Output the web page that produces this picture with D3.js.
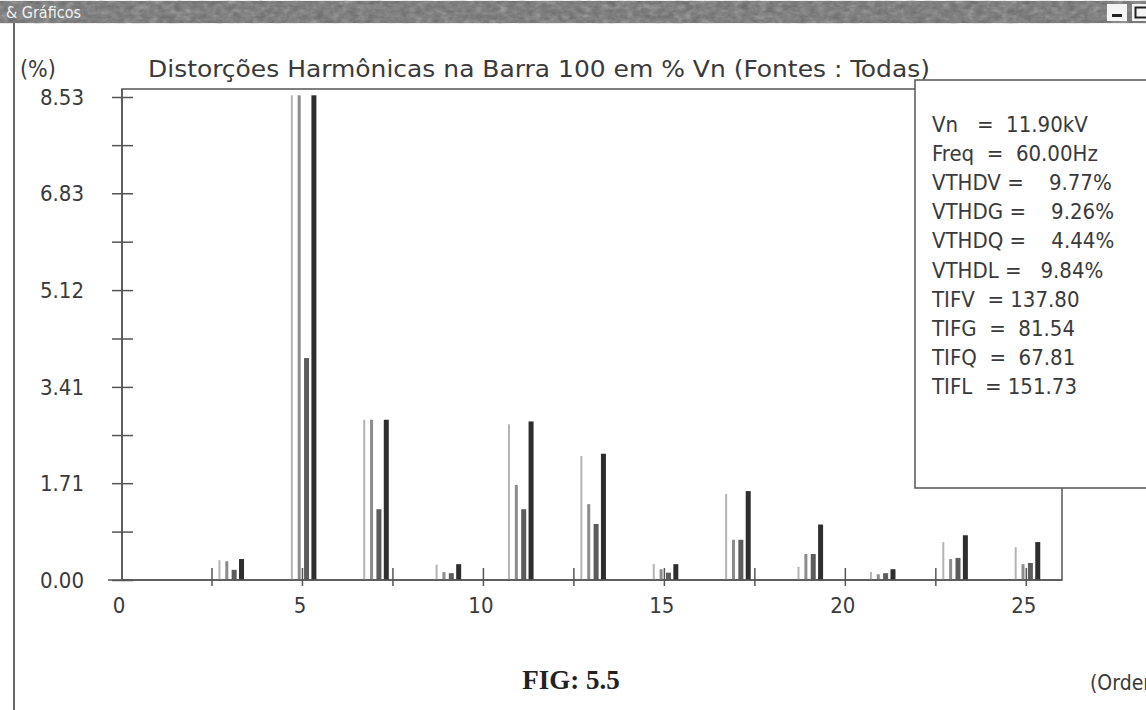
<!DOCTYPE html>
<html>
<head>
<meta charset="utf-8">
<script src="https://cdn.jsdelivr.net/npm/d3@7"></script>
<style>
  body { margin: 0; background: #fff; }
  svg { display: block; }
  text { font-family: 'DejaVu Sans Condensed', 'Liberation Sans Narrow', 'Open Sans', sans-serif; fill: #3a3a3a; }
</style>
</head>
<body>
<div id="chart"></div>
<script>
// harmonic orders and the four sources (V, G, Q, L), in % of Vn
const orders = [3, 5, 7, 9, 11, 13, 15, 17, 19, 21, 23, 25];
const sources = ['V', 'G', 'Q', 'L'];
const valuesV = [0.35, 8.56, 2.83, 0.27, 2.75, 2.19, 0.28, 1.52, 0.23, 0.14, 0.67, 0.58];
const valuesG = [0.33, 8.56, 2.83, 0.14, 1.68, 1.34, 0.19, 0.71, 0.46, 0.10, 0.37, 0.28];
const valuesQ = [0.18, 3.92, 1.25, 0.12, 1.25, 0.99, 0.13, 0.71, 0.46, 0.12, 0.39, 0.30];
const valuesL = [0.37, 8.56, 2.83, 0.28, 2.80, 2.23, 0.28, 1.57, 0.98, 0.19, 0.79, 0.67];

const yTickValues = [0, 1.71, 3.41, 5.12, 6.83, 8.53];
const xTickLabels = [0, 5, 10, 15, 20, 25];
const xMinorTicks = [2.5, 5, 7.5, 10, 12.5, 15, 17.5, 20, 22.5, 25];

const legendLines = [
  'Vn   =  11.90kV',
  'Freq  =  60.00Hz',
  'VTHDV =    9.77%',
  'VTHDG =    9.26%',
  'VTHDQ =    4.44%',
  'VTHDL =   9.84%',
  'TIFV  = 137.80',
  'TIFG  =  81.54',
  'TIFQ  =  67.81',
  'TIFL  = 151.73'
];

const W = 1146, H = 710;
const svg = d3.select('#chart').append('svg')
  .attr('width', W)
  .attr('height', H);

// window title bar, noisy grey like the scan
const defs = svg.append('defs');
const f = defs.append('filter').attr('id', 'noise')
  .attr('filterUnits', 'userSpaceOnUse')
  .attr('x', 0).attr('y', 0).attr('width', W).attr('height', 24);
f.append('feTurbulence').attr('type', 'fractalNoise')
  .attr('baseFrequency', '0.12 0.2').attr('numOctaves', 3).attr('seed', 7);
f.append('feColorMatrix').attr('type', 'saturate').attr('values', 0);

svg.append('rect').attr('x', 0).attr('y', 1).attr('width', W).attr('height', 22).attr('fill', '#6b6b6b');
svg.append('rect').attr('x', 0).attr('y', 1).attr('width', W).attr('height', 22)
  .attr('filter', 'url(#noise)').attr('opacity', 0.55);
svg.append('text').attr('x', 6).attr('y', 18).style('font-size', '16px').style('fill', '#f0f0f0').text('& Gráficos');
svg.append('rect').attr('x', 1107).attr('y', 4).attr('width', 20).attr('height', 17).attr('fill', '#f4f4f4');
svg.append('rect').attr('x', 1112).attr('y', 14).attr('width', 10).attr('height', 3).attr('fill', '#222');
svg.append('rect').attr('x', 1132).attr('y', 4).attr('width', 14).attr('height', 17).attr('fill', '#f4f4f4');
svg.append('rect').attr('x', 1135.5).attr('y', 7.5).attr('width', 12).attr('height', 10).attr('fill', 'none').attr('stroke', '#222').attr('stroke-width', 2);

// left window border
svg.append('line').attr('x1', 14).attr('x2', 14).attr('y1', 23).attr('y2', H)
  .attr('stroke', '#666').attr('stroke-width', 2);

// scales
const x = d3.scaleLinear().domain([0, 26]).range([121, 1062]);
const y = d3.scaleLinear().domain([0, 8.53]).range([580, 97]);
const inner = d3.scalePoint().domain(sources).range([-0.28, 0.33]);

const barWidth = {V: 2, G: 3, Q: 5, L: 5};
const barColor = {V: '#b4b4b4', G: '#8c8c8c', Q: '#5c5c5c', L: '#2e2e2e'};
const seriesValues = {V: valuesV, G: valuesG, Q: valuesQ, L: valuesL};

// plot frame
svg.append('rect')
  .attr('x', 122).attr('y', 89)
  .attr('width', x(26) - 122).attr('height', y(0) - 89)
  .attr('fill', 'none').attr('stroke', '#555').attr('stroke-width', 1.5);

// bars
const data = [];
sources.forEach(s => {
  orders.forEach((h, i) => data.push({s: s, h: h, v: seriesValues[s][i]}));
});

const barTop = d => Math.max(y(d.v), 94);
svg.append('g').selectAll('rect')
  .data(data)
  .join('rect')
  .attr('x', d => x(d.h + inner(d.s)) - barWidth[d.s] / 2)
  .attr('width', d => barWidth[d.s])
  .attr('y', barTop)
  .attr('height', d => y(0) - barTop(d))
  .attr('fill', d => barColor[d.s]);

// y axis: labelled ticks plus midpoints between them
const yMinor = d3.pairs(yTickValues).map(p => (p[0] + p[1]) / 2);
const yAxis = svg.append('g')
  .attr('transform', 'translate(122,0)')
  .call(d3.axisLeft(y)
    .tickValues(yTickValues.concat(yMinor))
    .tickSize(10)
    .tickFormat(d => yTickValues.includes(d) ? d.toFixed(2) : ''));
yAxis.select('.domain').attr('stroke', '#555').attr('stroke-width', 1.5).attr('d', 'M0,89V580');
yAxis.selectAll('.tick line').attr('x1', -10).attr('x2', 11).attr('stroke', '#555').attr('stroke-width', 1.5);
yAxis.selectAll('.tick text').style('font-size', '22px').attr('x', -38).attr('dy', '0.35em');

// x axis
const xAxis = svg.append('g')
  .attr('transform', 'translate(0,580)')
  .call(d3.axisBottom(x).tickValues(xMinorTicks).tickSize(6).tickFormat(''));
xAxis.select('.domain').attr('stroke', '#555').attr('stroke-width', 1.5).attr('d', 'M108,0H1062');
xAxis.selectAll('.tick line').attr('y1', -12).attr('y2', 6).attr('stroke', '#555').attr('stroke-width', 1.5);

svg.append('g').selectAll('text')
  .data(xTickLabels)
  .join('text')
  .attr('x', d => x(d) - 2)
  .attr('y', 613)
  .attr('text-anchor', 'middle')
  .style('font-size', '22px')
  .text(d => d);

// titles
svg.append('text').attr('x', 20).attr('y', 77).style('font-size', '23px').text('(%)');
svg.append('text').attr('x', 148).attr('y', 77).style('font-size', '23px')
  .attr('textLength', 782).attr('lengthAdjust', 'spacingAndGlyphs')
  .text('Distorções Harmônicas na Barra  100 em % Vn (Fontes : Todas)');

// info box
svg.append('rect')
  .attr('x', 915).attr('y', 80).attr('width', 260).attr('height', 408)
  .attr('fill', '#fff').attr('stroke', '#555').attr('stroke-width', 1.5);

svg.append('g').selectAll('text')
  .data(legendLines)
  .join('text')
  .attr('x', 932)
  .attr('y', (d, i) => 132 + i * 29.1)
  .attr('xml:space', 'preserve')
  .style('white-space', 'pre')
  .style('font-size', '22px')
  .text(d => d);

svg.append('text').attr('x', 1090).attr('y', 690).style('font-size', '21px').text('(Ordem)');

svg.append('text').attr('x', 571).attr('y', 689).attr('text-anchor', 'middle')
  .style('font-family', "'Liberation Serif', 'DejaVu Serif', serif")
  .style('font-weight', 'bold').style('font-size', '27px').style('fill', '#222')
  .text('FIG: 5.5');
</script>
</body>
</html>
